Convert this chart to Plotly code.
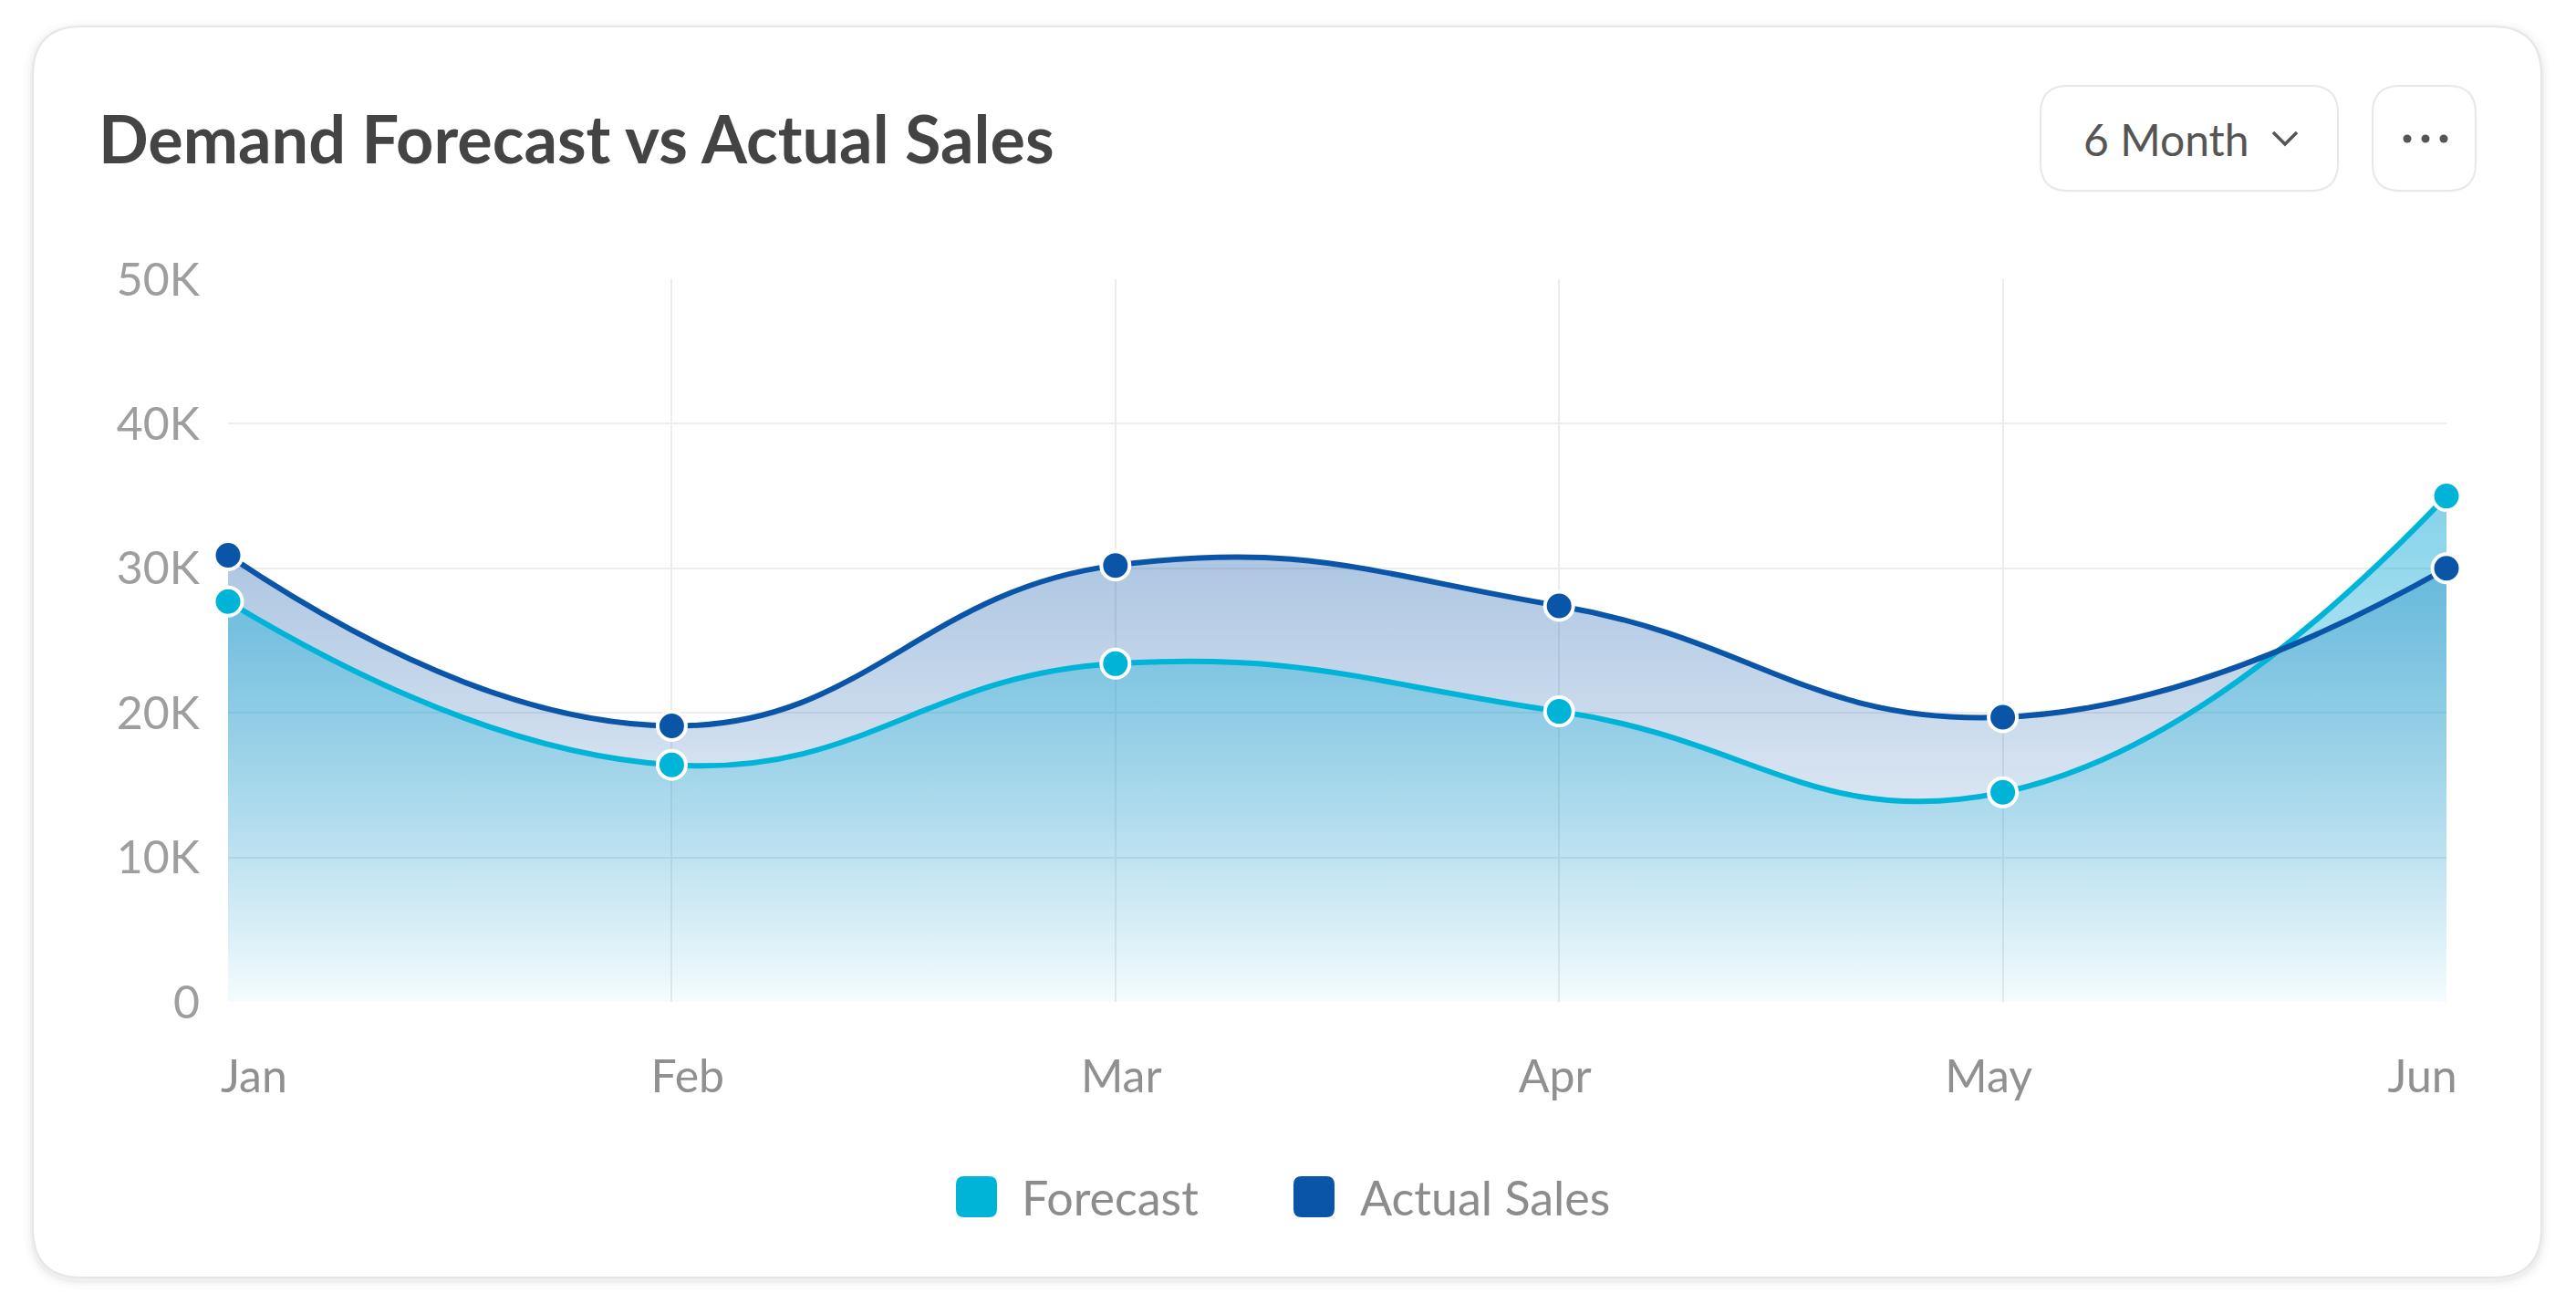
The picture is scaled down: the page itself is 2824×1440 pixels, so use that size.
import plotly.graph_objects as go

# chart data
months = ["Jan", "Feb", "Mar", "Apr", "May", "Jun"]
forecast = [27700, 16400, 23400, 20100, 14500, 35000]
actual_sales = [30900, 19100, 30200, 27400, 19700, 30000]
y_ticks = [0, 10000, 20000, 30000, 40000, 50000]
y_tick_labels = ["0", "10K", "20K", "30K", "40K", "50K"]

W, H = 2824, 1440
OFF = 8  # page body margin
ML, MR, MT, MB = 242, 150, 298, 350
PW = W - ML - MR
PH = H - MT - MB

FONT = "Lato"
CYAN = "#00b4d8"
BLUE = "#0a55a8"


def fx(px):
    return (px - OFF - ML) / PW


def fy(py):
    return (H - MB - (py - OFF)) / PH


def rrect(x0, y0, x1, y1, r):
    pts = [
        ("M", [(x0 + r, y0)]), ("L", [(x1 - r, y0)]), ("Q", [(x1, y0), (x1, y0 + r)]),
        ("L", [(x1, y1 - r)]), ("Q", [(x1, y1), (x1 - r, y1)]),
        ("L", [(x0 + r, y1)]), ("Q", [(x0, y1), (x0, y1 - r)]),
        ("L", [(x0, y0 + r)]), ("Q", [(x0, y0), (x0 + r, y0)]),
    ]
    out = ""
    for cmd, pp in pts:
        out += cmd + " " + " ".join(f"{fx(a):.5f},{fy(b):.5f}" for a, b in pp) + " "
    return out + "Z"


x_idx = list(range(len(months)))
SMOOTH = 1.3

fig = go.Figure()

# area fills first, lines on top
fig.add_trace(go.Scatter(
    x=x_idx, y=actual_sales, mode="none", fill="tozeroy",
    line=dict(shape="spline", smoothing=SMOOTH),
    fillgradient=dict(type="vertical", start=0, stop=35000,
                      colorscale=[[0, "rgba(10,85,168,0.0)"], [1, "rgba(10,85,168,0.38)"]]),
    showlegend=False, hoverinfo="skip"))
fig.add_trace(go.Scatter(
    x=x_idx, y=forecast, mode="none", fill="tozeroy",
    line=dict(shape="spline", smoothing=SMOOTH),
    fillgradient=dict(type="vertical", start=0, stop=35000,
                      colorscale=[[0, "rgba(0,180,216,0.04)"], [0.5, "rgba(0,172,214,0.26)"],
                                  [1, "rgba(0,160,210,0.48)"]]),
    showlegend=False, hoverinfo="skip"))
fig.add_trace(go.Scatter(
    x=x_idx, y=forecast, mode="lines+markers", name="Forecast", cliponaxis=False,
    line=dict(color=CYAN, width=6, shape="spline", smoothing=SMOOTH),
    marker=dict(size=31, color=CYAN, line=dict(color="white", width=4)),
    showlegend=False))
fig.add_trace(go.Scatter(
    x=x_idx, y=actual_sales, mode="lines+markers", name="Actual Sales", cliponaxis=False,
    line=dict(color=BLUE, width=6, shape="spline", smoothing=SMOOTH),
    marker=dict(size=31, color=BLUE, line=dict(color="white", width=4)),
    showlegend=False))
# carrier for the month labels axis
fig.add_trace(go.Scatter(x=x_idx, y=[None] * len(months), xaxis="x2", mode="markers",
                         showlegend=False, hoverinfo="skip"))

shapes = []
# card shadow + card
for grow, alpha in [(10, 0.012), (6, 0.02), (3, 0.03)]:
    shapes.append(dict(type="path", xref="paper", yref="paper", layer="below",
                       path=rrect(36 - grow, 29 - grow + 3, 2786 + grow, 1400 + grow + 3, 54 + grow),
                       fillcolor=f"rgba(0,0,0,{alpha})", line=dict(width=0)))
shapes.append(dict(type="path", xref="paper", yref="paper", layer="below",
                   path=rrect(36, 29, 2786, 1400, 54),
                   fillcolor="white", line=dict(color="#e6e6e6", width=2)))

# header buttons
for bx0, bx1 in [(2237, 2563), (2601, 2714)]:
    shapes.append(dict(type="path", xref="paper", yref="paper", layer="below",
                       path=rrect(bx0, 96, bx1, 211, 30),
                       fillcolor="rgba(0,0,0,0.02)", line=dict(width=0)))
    shapes.append(dict(type="path", xref="paper", yref="paper", layer="below",
                       path=rrect(bx0, 94, bx1, 209, 30),
                       fillcolor="white", line=dict(color="#e8e8e8", width=2)))

# chevron
shapes.append(dict(type="path", xref="paper", yref="paper",
                   path=f"M {fx(2492):.5f},{fy(145):.5f} L {fx(2505):.5f},{fy(158):.5f} L {fx(2518):.5f},{fy(145):.5f}",
                   line=dict(color="#555555", width=3.5)))
# three dots
for cx in [2639, 2659, 2679]:
    shapes.append(dict(type="circle", xref="paper", yref="paper",
                       x0=fx(cx - 4.5), x1=fx(cx + 4.5), y0=fy(152 + 4.5), y1=fy(152 - 4.5),
                       fillcolor="#555555", line=dict(width=0)))

# legend swatches
for sx0, col in [(1048, CYAN), (1418, BLUE)]:
    shapes.append(dict(type="path", xref="paper", yref="paper",
                       path=rrect(sx0, 1289, sx0 + 45, 1334, 9),
                       fillcolor=col, line=dict(width=0)))

annotations = [
    dict(text="Demand Forecast vs Actual Sales", x=fx(106), y=fy(151), xref="paper", yref="paper",
         xanchor="left", yanchor="middle", showarrow=False,
         font=dict(family=FONT, size=72, color="#444444", weight=700)),
    dict(text="6 Month", x=fx(2282), y=fy(152), xref="paper", yref="paper",
         xanchor="left", yanchor="middle", showarrow=False,
         font=dict(family=FONT, size=48, color="#555555")),
    dict(text="Forecast", x=fx(1118), y=fy(1312), xref="paper", yref="paper",
         xanchor="left", yanchor="middle", showarrow=False,
         font=dict(family=FONT, size=52, color="#8c8c8c")),
    dict(text="Actual Sales", x=fx(1489), y=fy(1312), xref="paper", yref="paper",
         xanchor="left", yanchor="middle", showarrow=False,
         font=dict(family=FONT, size=52, color="#8c8c8c")),
]

unit = PW / (len(months) - 1)
fig.update_layout(
    width=W, height=H,
    margin=dict(l=ML, r=MR, t=MT, b=MB),
    paper_bgcolor="white", plot_bgcolor="rgba(0,0,0,0)",
    font=dict(family=FONT),
    showlegend=False,
    shapes=shapes,
    annotations=annotations,
    xaxis=dict(range=[0, len(months) - 1], tickvals=x_idx, showticklabels=False,
               showgrid=True, gridcolor="#ececec", gridwidth=2, zeroline=False,
               showline=False, ticks=""),
    xaxis2=dict(overlaying="x", anchor="y", side="bottom",
                range=[-29 / unit, len(months) - 1 + 27 / unit],
                tickvals=x_idx, ticktext=months, showgrid=False, zeroline=False,
                showline=False, ticks="", ticklabelstandoff=48,
                tickfont=dict(family=FONT, size=50, color="#909090")),
    yaxis=dict(range=[0, 50000], tickvals=y_ticks, ticktext=y_tick_labels,
               showgrid=True, gridcolor="#ececec", gridwidth=2, zeroline=False,
               showline=False, ticks="", ticklabelstandoff=30,
               tickfont=dict(family=FONT, size=50, color="#9e9e9e")),
)

fig.write_html("out.html")
